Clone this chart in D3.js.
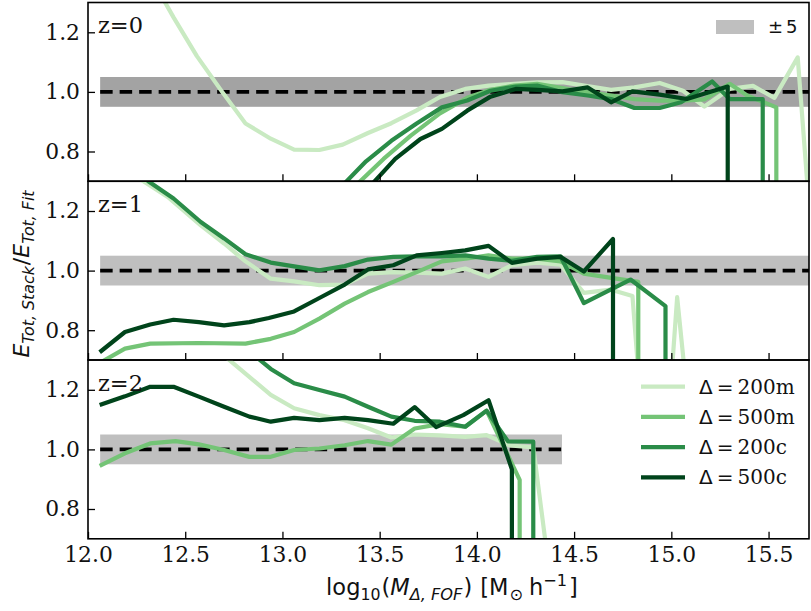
<!DOCTYPE html>
<html>
<head>
<meta charset="utf-8">
<script src="https://cdn.jsdelivr.net/npm/d3@7"></script>
<style>
  body { margin: 0; background: #fff; }
  svg { display: block; }
</style>
</head>
<body>
<svg id="chart" width="811" height="611"></svg>
<script>
// ---- data: log10 halo mass and stacked / fitted total energy ratio ----
// z = 0
const massZ0_200m  = [12.06, 12.19, 12.31, 12.44, 12.56, 12.69, 12.81, 12.94, 13.06, 13.19, 13.31, 13.44, 13.56, 13.69, 13.81, 13.94, 14.06, 14.19, 14.31, 14.44, 14.56, 14.69, 14.81, 14.94, 15.06, 15.17, 15.30, 15.42, 15.53, 15.65, 15.78];
const ratioZ0_200m = [1.72, 1.55, 1.40, 1.25, 1.12, 1.00, 0.894, 0.843, 0.806, 0.805, 0.823, 0.862, 0.895, 0.938, 0.983, 1.010, 1.021, 1.027, 1.032, 1.033, 1.020, 1.007, 1.015, 1.030, 1.004, 0.951, 1.010, 1.020, 0.980, 1.116, 0.0];
const massZ0_500m  = [13.27, 13.40, 13.52, 13.66, 13.81, 13.95, 14.07, 14.19, 14.31, 14.44, 14.57, 14.69, 14.81, 14.94, 15.06, 15.17, 15.30, 15.39, 15.54, 15.54];
const ratioZ0_500m = [0.62, 0.70, 0.775, 0.853, 0.928, 0.980, 1.007, 1.021, 1.027, 1.013, 0.999, 0.988, 0.976, 0.971, 0.971, 0.975, 1.027, 0.988, 0.948, 0];
const massZ0_200c  = [13.17, 13.30, 13.43, 13.56, 13.69, 13.82, 13.95, 14.07, 14.20, 14.31, 14.44, 14.57, 14.69, 14.81, 14.94, 15.05, 15.21, 15.30, 15.47, 15.47];
const ratioZ0_200c = [0.60, 0.68, 0.767, 0.836, 0.894, 0.948, 0.971, 1.004, 1.018, 1.021, 0.999, 0.988, 0.976, 0.946, 0.946, 0.965, 1.035, 0.976, 0.976, 0];
const massZ0_500c  = [13.34, 13.46, 13.58, 13.71, 13.82, 13.95, 14.07, 14.20, 14.31, 14.44, 14.57, 14.69, 14.80, 14.94, 15.08, 15.29, 15.29];
const ratioZ0_500c = [0.62, 0.69, 0.775, 0.842, 0.876, 0.937, 0.984, 1.010, 1.007, 1.002, 1.015, 0.965, 1.002, 0.991, 0.976, 1.018, 0];

// z = 1
const massZ1_200m  = [12.06, 12.19, 12.41, 12.58, 12.70, 12.81, 12.94, 13.06, 13.19, 13.32, 13.44, 13.57, 13.69, 13.82, 13.94, 14.06, 14.18, 14.31, 14.43, 14.55, 14.69, 14.80, 14.92, 15.03, 15.14];
const ratioZ1_200m = [1.42, 1.34, 1.247, 1.152, 1.091, 1.031, 0.973, 0.964, 0.951, 0.953, 0.990, 0.995, 0.993, 0.990, 1.007, 0.979, 1.018, 1.027, 1.020, 0.925, 0.936, 0.915, -0.1, 0.911, 0.2];
const massZ1_500m  = [12.06, 12.19, 12.32, 12.57, 12.81, 12.94, 13.06, 13.19, 13.32, 13.44, 13.57, 13.69, 13.82, 13.94, 14.06, 14.18, 14.31, 14.43, 14.55, 14.70, 14.83, 14.83];
const ratioZ1_500m = [0.69, 0.738, 0.755, 0.757, 0.755, 0.771, 0.794, 0.839, 0.889, 0.928, 0.962, 0.995, 1.031, 1.040, 1.051, 1.040, 1.040, 1.031, 0.990, 0.975, 0.962, 0];
const massZ1_200c  = [12.06, 12.19, 12.31, 12.44, 12.58, 12.70, 12.81, 12.94, 13.06, 13.19, 13.32, 13.44, 13.57, 13.69, 13.82, 13.94, 14.06, 14.18, 14.31, 14.43, 14.55, 14.79, 14.97, 14.97];
const ratioZ1_200c = [1.44, 1.37, 1.30, 1.242, 1.163, 1.108, 1.055, 1.027, 1.014, 1.001, 1.015, 1.037, 1.046, 1.048, 1.048, 1.051, 1.040, 1.033, 1.046, 1.048, 0.891, 0.970, 0.881, 0];
const massZ1_500c  = [12.06, 12.19, 12.32, 12.44, 12.57, 12.70, 12.83, 12.93, 13.06, 13.19, 13.32, 13.44, 13.57, 13.69, 13.82, 13.94, 14.06, 14.18, 14.31, 14.43, 14.55, 14.70, 14.70];
const ratioZ1_500c = [0.726, 0.794, 0.819, 0.835, 0.827, 0.816, 0.827, 0.841, 0.863, 0.908, 0.953, 1.004, 1.018, 1.051, 1.059, 1.068, 1.083, 1.026, 1.040, 1.046, 0.997, 1.106, 0];

// z = 2
const massZ2_200m  = [12.44, 12.69, 12.94, 13.06, 13.19, 13.32, 13.44, 13.56, 13.68, 13.81, 13.94, 14.05, 14.17, 14.29, 14.41];
const ratioZ2_200m = [1.50, 1.32, 1.183, 1.138, 1.115, 1.098, 1.071, 1.040, 1.050, 1.047, 1.042, 1.048, 1.013, 1.007, 0.40];
const massZ2_500m  = [12.06, 12.19, 12.32, 12.45, 12.57, 12.70, 12.83, 12.94, 13.06, 13.19, 13.32, 13.44, 13.56, 13.68, 13.81, 13.94, 14.05, 14.22, 14.22];
const ratioZ2_500m = [0.945, 0.987, 1.020, 1.028, 1.017, 0.998, 0.975, 0.975, 0.998, 1.003, 1.014, 1.028, 1.016, 1.070, 1.085, 1.076, 1.130, 0.898, 0];
const massZ2_200c  = [12.81, 12.94, 13.06, 13.19, 13.32, 13.44, 13.56, 13.68, 13.81, 13.94, 14.05, 14.16, 14.29, 14.29];
const ratioZ2_200c = [1.34, 1.27, 1.222, 1.199, 1.177, 1.143, 1.110, 1.096, 1.093, 1.076, 1.130, 1.027, 1.026, 0];
const massZ2_500c  = [12.06, 12.19, 12.32, 12.44, 12.57, 12.70, 12.83, 12.94, 13.06, 13.19, 13.32, 13.44, 13.57, 13.68, 13.79, 13.93, 14.06, 14.18, 14.18];
const ratioZ2_500c = [1.149, 1.178, 1.210, 1.210, 1.177, 1.143, 1.110, 1.093, 1.106, 1.098, 1.106, 1.098, 1.086, 1.142, 1.075, 1.115, 1.165, 0.933, 0];

// definitions, labels and ticks
const definitions   = ["200m", "500m", "200c", "500c"];
const legendLabels  = ["200m", "500m", "200c", "500c"];
const redshiftLabels = ["z=0", "z=1", "z=2"];
const xTicks = [12.0, 12.5, 13.0, 13.5, 14.0, 14.5, 15.0, 15.5];
const yTicks = [0.8, 1.0, 1.2];
const bandHalfWidth = 0.05;
const bandRanges = [[12.0625, 16.0], [12.0625, 16.0], [12.0625, 14.4375]];

const panels = [
  { mass: [massZ0_200m, massZ0_500m, massZ0_200c, massZ0_500c],
    ratio: [ratioZ0_200m, ratioZ0_500m, ratioZ0_200c, ratioZ0_500c] },
  { mass: [massZ1_200m, massZ1_500m, massZ1_200c, massZ1_500c],
    ratio: [ratioZ1_200m, ratioZ1_500m, ratioZ1_200c, ratioZ1_500c] },
  { mass: [massZ2_200m, massZ2_500m, massZ2_200c, massZ2_500c],
    ratio: [ratioZ2_200m, ratioZ2_500m, ratioZ2_200c, ratioZ2_500c] }
];

// ---- layout / style ----
const plotLeft = 88, plotRight = 809;
const panelTop = [2.5, 181.2, 360];
const panelH = 178.8;
const colors = ["#c9eac2", "#74c476", "#2a8c48", "#00441b"];
const bandColors = ["#a3a3a3", "#bfbfbf", "#bfbfbf"];
const serif = "'DejaVu Serif', serif";
const sans = "'DejaVu Sans', sans-serif";
const tickFont = 21.8;

const svg = d3.select("#chart");
const x = d3.scaleLinear().domain([12, 15.708]).range([plotLeft, plotRight]);

panels.forEach((panel, pi) => {
  const top = panelTop[pi];
  const y = d3.scaleLinear().domain([0.7, 1.3]).range([top + panelH, top]);
  const g = svg.append("g");

  const clipId = "clip" + pi;
  svg.append("clipPath").attr("id", clipId)
    .append("rect").attr("x", plotLeft).attr("y", top)
    .attr("width", plotRight - plotLeft).attr("height", panelH);

  const inner = g.append("g").attr("clip-path", `url(#${clipId})`);
  const [b0, b1] = bandRanges[pi];

  // +-5 per cent band
  inner.append("rect")
    .attr("x", x(b0)).attr("width", x(b1) - x(b0))
    .attr("y", y(1 + bandHalfWidth)).attr("height", y(1 - bandHalfWidth) - y(1 + bandHalfWidth))
    .attr("fill", bandColors[pi]);

  // unity reference
  inner.append("path")
    .attr("d", d3.line()([[x(b0), y(1)], [x(b1), y(1)]]))
    .attr("stroke", "#000").attr("stroke-width", 3.6)
    .attr("stroke-dasharray", "12.5,7").attr("fill", "none");

  const line = d3.line().x(d => x(d[0])).y(d => y(d[1]));
  definitions.forEach((def, si) => {
    const pts = panel.mass[si].map((m, k) => [m, panel.ratio[si][k]]);
    inner.append("path")
      .attr("d", line(pts))
      .attr("fill", "none")
      .attr("stroke", colors[si])
      .attr("stroke-width", 4.2)
      .attr("stroke-linejoin", "round")
      .attr("stroke-linecap", "butt");
  });

  // axes (inward ticks)
  const yAxis = d3.axisLeft(y).tickValues(yTicks).tickSizeInner(-7).tickSizeOuter(0)
    .tickPadding(8).tickFormat(d3.format(".1f"));
  const ya = g.append("g").attr("transform", `translate(${plotLeft},0)`).call(yAxis);
  ya.select(".domain").remove();
  ya.selectAll("line").attr("stroke", "#000").attr("stroke-width", 1.3);
  ya.selectAll("text").attr("font-family", serif).attr("font-size", tickFont).attr("fill", "#111");

  const xAxis = d3.axisBottom(x).tickValues(xTicks).tickSizeInner(-7).tickSizeOuter(0)
    .tickPadding(8).tickFormat(pi === 2 ? d3.format(".1f") : () => "");
  const xa = g.append("g").attr("transform", `translate(0,${top + panelH})`).call(xAxis);
  xa.select(".domain").remove();
  xa.selectAll("line").attr("stroke", "#000").attr("stroke-width", 1.3);
  xa.selectAll("text").attr("font-family", serif).attr("font-size", tickFont).attr("fill", "#111");

  // frame
  g.append("rect")
    .attr("x", plotLeft).attr("y", top)
    .attr("width", plotRight - plotLeft).attr("height", panelH)
    .attr("fill", "none").attr("stroke", "#000").attr("stroke-width", 1.6);

  // redshift label
  g.append("text")
    .attr("x", plotLeft + 10).attr("y", top + 30.5)
    .attr("font-family", serif).attr("font-size", 22.5).attr("fill", "#111")
    .text(redshiftLabels[pi]);

  if (pi === 0) {
    // band legend
    g.append("rect").attr("x", 716).attr("y", top + 17.5).attr("width", 38).attr("height", 14)
      .attr("fill", "#bfbfbf");
    const t = g.append("text").attr("x", 768).attr("y", top + 30)
      .attr("font-family", sans).attr("font-size", 18).attr("fill", "#111");
    t.append("tspan").text("\u00b1");
    t.append("tspan").attr("dx", 3).text("5");
  }

  if (pi === 2) {
    // definition legend
    definitions.forEach((def, si) => {
      const ly = top + 26.7 + si * 30.2;
      g.append("path")
        .attr("d", d3.line()([[641, ly], [685, ly]]))
        .attr("stroke", colors[si]).attr("stroke-width", 4.2);
      const t = g.append("text").attr("x", 699).attr("y", ly + 7)
        .attr("font-size", 20).attr("fill", "#111");
      t.append("tspan").attr("font-family", sans).text("\u0394");
      t.append("tspan").attr("font-family", sans).attr("dx", 4).text("=");
      t.append("tspan").attr("font-family", serif).attr("dx", 4).text(legendLabels[si]);
    });
  }
});

// mathtext-like labels built from tspans
function mathLabel(textSel, parts, base) {
  let cur = 0;
  parts.forEach(p => {
    const shift = p.shift || 0;
    const t = textSel.append("tspan")
      .attr("dy", shift - cur)
      .style("font-size", (p.scale || 1) * base + "px")
      .style("font-style", p.italic ? "italic" : "normal")
      .text(p.t);
    if (p.dx) t.attr("dx", p.dx);
    cur = shift;
  });
}

const xl = svg.append("text")
  .attr("x", 452).attr("y", 595).attr("text-anchor", "middle")
  .attr("font-family", sans).attr("fill", "#111");
mathLabel(xl, [
  { t: "log" },
  { t: "10", scale: 0.7, shift: 5 },
  { t: "(", shift: 0, dx: 1 },
  { t: "M", italic: true },
  { t: "\u0394, FOF", italic: true, scale: 0.72, shift: 5 },
  { t: ")", shift: 0, dx: 1 },
  { t: "[M", dx: 8 },
  { t: "\u2299", scale: 0.72, shift: 5, dx: 1 },
  { t: "h", shift: 0, dx: 6 },
  { t: "\u22121", scale: 0.72, shift: -9 },
  { t: "]", shift: 0, dx: 2 }
], 22.5);

const yl = svg.append("text")
  .attr("transform", "translate(29,274) rotate(-90)")
  .attr("text-anchor", "middle")
  .attr("font-family", sans).attr("fill", "#111");
mathLabel(yl, [
  { t: "E", italic: true },
  { t: "Tot, Stack", italic: true, scale: 0.72, shift: 5 },
  { t: "/", shift: 0, dx: 1 },
  { t: "E", italic: true },
  { t: "Tot, Fit", italic: true, scale: 0.72, shift: 5 }
], 22);
</script>
</body>
</html>
